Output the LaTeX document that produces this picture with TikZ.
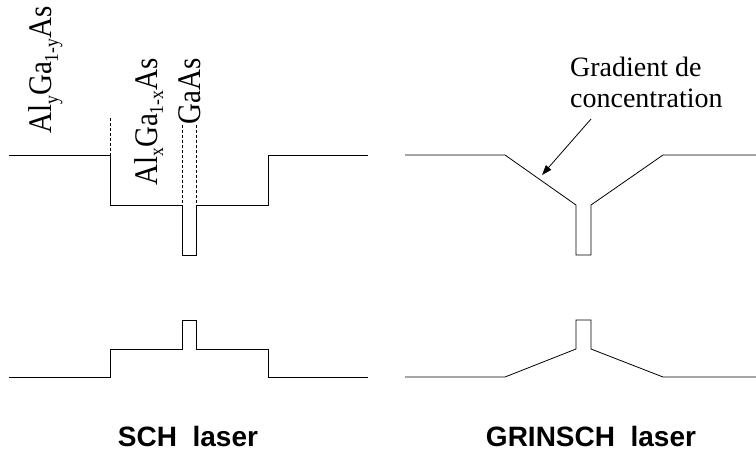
\documentclass[tikz,border=0pt]{standalone}
\usepackage{fontspec}
\setmainfont{Liberation Serif}
\newfontfamily\arialf{Liberation Sans}
\usetikzlibrary{arrows.meta}
\newcommand\sbs[1]{\raisebox{-6pt}{\fontsize{20}{20}\selectfont #1}}
\newcommand\rlab[1]{\scalebox{0.88}[1]{\fontsize{33}{36}\selectfont #1}}
\begin{document}
\begin{tikzpicture}[x=1pt,y=-1pt,
  ln/.style={line width=0.8pt, line join=miter},
  dashln/.style={line width=0.8pt, dash pattern=on 3pt off 2pt},
  lbl/.style={inner sep=0pt, font=\fontsize{28}{31}\selectfont},
  ttl/.style={inner sep=0pt, font=\arialf\bfseries\fontsize{28}{31}\selectfont},
  arr/.style={line width=0.8pt, -{Triangle[length=10pt,width=7pt]}}]
\useasboundingbox (0,0) rectangle (756,451);
% SCH conduction band
\draw[ln] (9,155) -- (110,155) -- (110,205) -- (182,205) -- (182,255) -- (196,255) -- (196,205) -- (268,205) -- (268,155) -- (368,155);
\draw[dashln] (110,118) -- (110,205);
\draw[dashln] (182,125) -- (182,205);
\draw[dashln] (196,125) -- (196,205);
% SCH valence band
\draw[ln] (9,377) -- (110,377) -- (110,349) -- (182,349) -- (182,320) -- (196,320) -- (196,349) -- (268,349) -- (268,377) -- (368,377);
% GRINSCH conduction band
\draw[ln] (405,155) -- (505,155) -- (576,205) -- (576,255) -- (591,255) -- (591,205) -- (663,155) -- (756,155);
% GRINSCH valence band
\draw[ln] (405,377) -- (505,377) -- (576,349) -- (576,320) -- (591,320) -- (591,349) -- (663,377) -- (756,377);
% rotated labels
\node[inner sep=0pt, rotate=90, anchor=base west] (l1) at (52,134) {\rlab{Al\sbs{y}Ga\sbs{1-y}As}};
\node[inner sep=0pt, rotate=90, anchor=base west] (l2) at (157,186) {\rlab{Al\sbs{x}Ga\sbs{1-x}As}};
\node[inner sep=0pt, rotate=90, anchor=base west] (l3) at (200,125) {\rlab{GaAs}};
% gradient label
\node[lbl, anchor=base west] (gradA) at (570,76) {Gradient de};
\node[lbl, anchor=base west] (gradB) at (570,107) {concentration};
\coordinate (arrS) at (591,119);
\coordinate (arrE) at (542,175);
\draw[arr] (arrS) -- (arrE);
% titles
\node[ttl, anchor=base] (t1) at (188,446) {SCH~~laser};
\node[ttl, anchor=base] (t2) at (591,446) {GRINSCH~~laser};
\end{tikzpicture}
\end{document}
